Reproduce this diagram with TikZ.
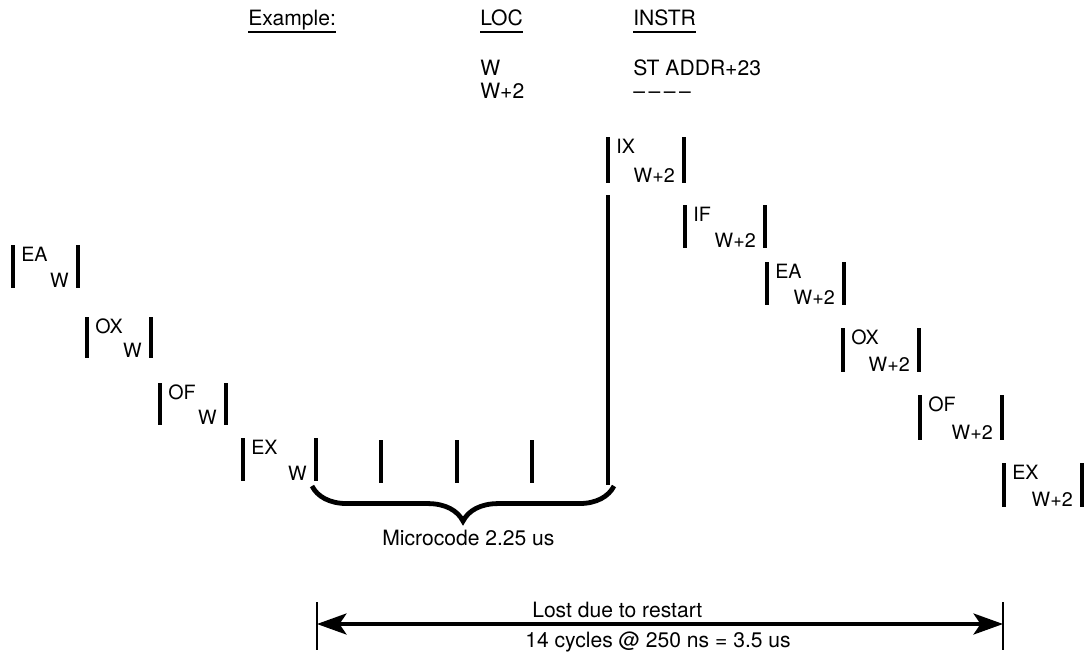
\documentclass[tikz,border=0pt]{standalone}
\usepackage{fontspec}
\setmainfont{TeX Gyre Heros}
\usetikzlibrary{positioning,arrows.meta,decorations.pathreplacing}

\begin{document}
\begin{tikzpicture}[x=0.025cm,y=-0.025cm,
    bar/.style={line width=2.5pt},
    uline/.style={line width=2pt},
    oplabel/.style={anchor=north west,inner sep=0pt,font=\fontsize{14}{16}\selectfont},
    loclabel/.style={anchor=base east,inner sep=0pt,font=\fontsize{14}{16}\selectfont},
    head/.style={anchor=base west,inner sep=0pt,font=\fontsize{15}{17}\selectfont},
    note/.style={anchor=base west,inner sep=0pt,font=\fontsize{15}{17}\selectfont}]
    \useasboundingbox (0,0) rectangle (1084,658);

    % header
    \node[head] (example) at (248,25) {Example:};
    \node[head] (loc) at (480,25) {LOC};
    \node[head] (instr) at (633,25) {INSTR};
    \foreach \h in {example,loc,instr}
        \draw[uline] ([yshift=-5pt]\h.base west) -- ([yshift=-5pt]\h.base east);
    \node[head] (locw) at (480,75) {W};
    \node[head] (locw2) at (480,98) {W+2};
    \node[head] (instrw) at (633,75) {ST ADDR+23};
    \node[head] (instrw2) at (633,98) {\textendash\,\textendash\,\textendash\,\textendash};

    % pipeline stages
    \foreach \nm/\xl/\xr/\yt/\yb/\op/\at in {
        eaw/13/78/245/288/EA/W, oxw/87/151/317/358/OX/W,
        ofw/160/226/383/425/OF/W, exw/243/316/438/481/EX/W,
        ixw/608/684/137/183/IX/W+2, ifw/685/765/205/248/IF/W+2,
        eaww/767/844/262/305/EA/W+2, oxww/843/919/328/372/OX/W+2,
        ofww/920/1002/395/440/OF/W+2, exww/1004/1082/463/507/EX/W+2}
    {
        \coordinate (\nm-tl) at (\xl,\yt);
        \coordinate (\nm-br) at (\xr,\yb);
        \draw[bar] (\nm-tl) -- (\nm-tl |- \nm-br);
        \draw[bar] (\nm-tl -| \nm-br) -- (\nm-br);
        \node[oplabel] (\nm-op) at (\xl+8,\yt+2) {\op};
        \node[loclabel] (\nm-at) at (\xr-9,\yb-1) {\at};
    }

    % microcode cycles
    \foreach \tx in {381,457,532}
        \draw[bar] (\tx,440) -- (\tx,483);
    \draw[bar] (608,195) -- (608,485);
    \coordinate (mcl) at (312,486);
    \coordinate (mcr) at (614,486);
    \draw[line width=3.4pt,decorate,decoration={brace,mirror,amplitude=25pt}] (mcl) -- (mcr);
    \node[note] (mc) at (382,545) {Microcode 2.25 us};

    % restart loss
    \coordinate (lostl) at (317,624);
    \coordinate (lostr) at (1003,624);
    \draw[line width=1.9pt] (317,602) -- (317,650);
    \draw[line width=1.9pt] (1003,602) -- (1003,650);
    \draw[line width=2.2pt,{Stealth[length=21pt,width=15pt,inset=5pt]}-{Stealth[length=21pt,width=15pt,inset=5pt]}] (lostl) -- (lostr);
    \node[note] (lost) at (532,617) {Lost due to restart};
    \node[note] (cycles) at (525,647) {14 cycles @ 250 ns = 3.5 us};
\end{tikzpicture}
\end{document}
